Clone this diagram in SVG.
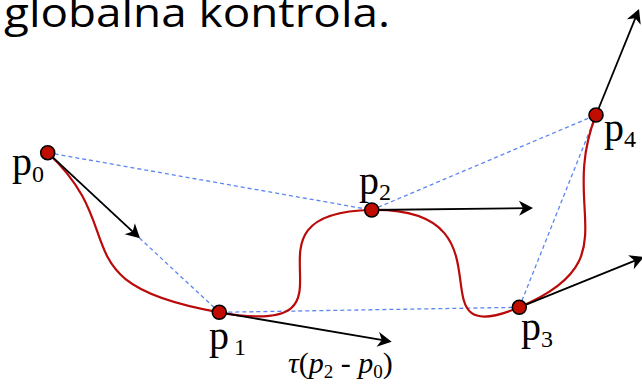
<svg xmlns="http://www.w3.org/2000/svg" width="642" height="384" viewBox="0 0 642 384">
<style>
.dash{stroke:#5b86f2;stroke-width:1.3;stroke-dasharray:4 3;fill:none}
.curve{stroke:#bb0a0a;stroke-width:2.2;fill:none}
.arr{stroke:#000;stroke-width:1.8;fill:none;marker-end:url(#ah)}
.node{fill:#c00d00;stroke:#000;stroke-width:1.6}
.lbl{font-family:"Liberation Serif","Times New Roman",serif;font-size:40px;fill:#000}
.sub{font-size:24px}
.title{font-family:"Open Sans","Liberation Sans",sans-serif;font-size:40px;fill:#000}
.math{font-family:"Liberation Serif","Times New Roman",serif;font-size:30px;fill:#000}
</style>
<defs>
<marker id="ah" viewBox="-16 -8 17 16" refX="-3" refY="0" markerWidth="17" markerHeight="16" markerUnits="userSpaceOnUse" orient="auto">
<path d="M0,0 L-14,-7.5 L-10,0 L-14,7.5 z" fill="#000"/>
</marker>
</defs>
<rect width="642" height="384" fill="#fff"/>
<text class="title" x="4" y="27" textLength="386" lengthAdjust="spacingAndGlyphs">globalna kontrola.</text>
<g id="connectors">
<line class="dash" x1="47.7" y1="152.7" x2="371.7" y2="210"/>
<line class="dash" x1="371.7" y1="210" x2="596" y2="115"/>
<line class="dash" x1="596" y1="115" x2="519.3" y2="307.3"/>
<line class="dash" x1="519.3" y1="307.3" x2="219.3" y2="312.3"/>
<line class="dash" x1="219.3" y1="312.3" x2="47.7" y2="152.7"/>
<path class="curve" d="M47.7,152.7 C133.5,232.5 57.3,283.65 219.3,312.3 C381.3,340.95 221.7,212.5 371.7,210 C521.7,207.5 407.15,354.8 519.3,307.3 C631.45,259.8 557.65,211.15 596,115"/>
<line class="arr" x1="47.7" y1="152.7" x2="137.8" y2="236.3"/>
<line class="arr" x1="219.3" y1="312.3" x2="388.7" y2="341.2"/>
<line class="arr" x1="371.7" y1="210" x2="530" y2="208.04"/>
<line class="arr" x1="519.3" y1="307.3" x2="641.2" y2="258.1"/>
<line class="arr" x1="596" y1="115" x2="637.9" y2="11.8"/>
<text class="math" x="288" y="373"><tspan font-style="italic">τ</tspan>(<tspan font-style="italic">p</tspan><tspan font-size="19" dy="5">2</tspan><tspan dy="-5"> - </tspan><tspan font-style="italic">p</tspan><tspan font-size="19" dy="5">0</tspan><tspan dy="-5">)</tspan></text>
</g>
<g id="node-p0">
<circle class="node" cx="47.7" cy="152.7" r="7"/>
<text class="lbl" x="12" y="175">p<tspan class="sub" dy="7">0</tspan></text>
</g>
<g id="node-p1">
<circle class="node" cx="219.3" cy="312.3" r="7"/>
<text class="lbl" x="209" y="349">p<tspan class="sub" dx="5" dy="6">1</tspan></text>
</g>
<g id="node-p2">
<circle class="node" cx="371.7" cy="210" r="7"/>
<text class="lbl" x="359" y="194">p<tspan class="sub" dy="6">2</tspan></text>
</g>
<g id="node-p3">
<circle class="node" cx="519.3" cy="307.3" r="7"/>
<text class="lbl" x="521" y="340">p<tspan class="sub" dy="7">3</tspan></text>
</g>
<g id="node-p4">
<circle class="node" cx="596" cy="115" r="7"/>
<text class="lbl" x="604" y="141">p<tspan class="sub" dy="6">4</tspan></text>
</g>
</svg>
